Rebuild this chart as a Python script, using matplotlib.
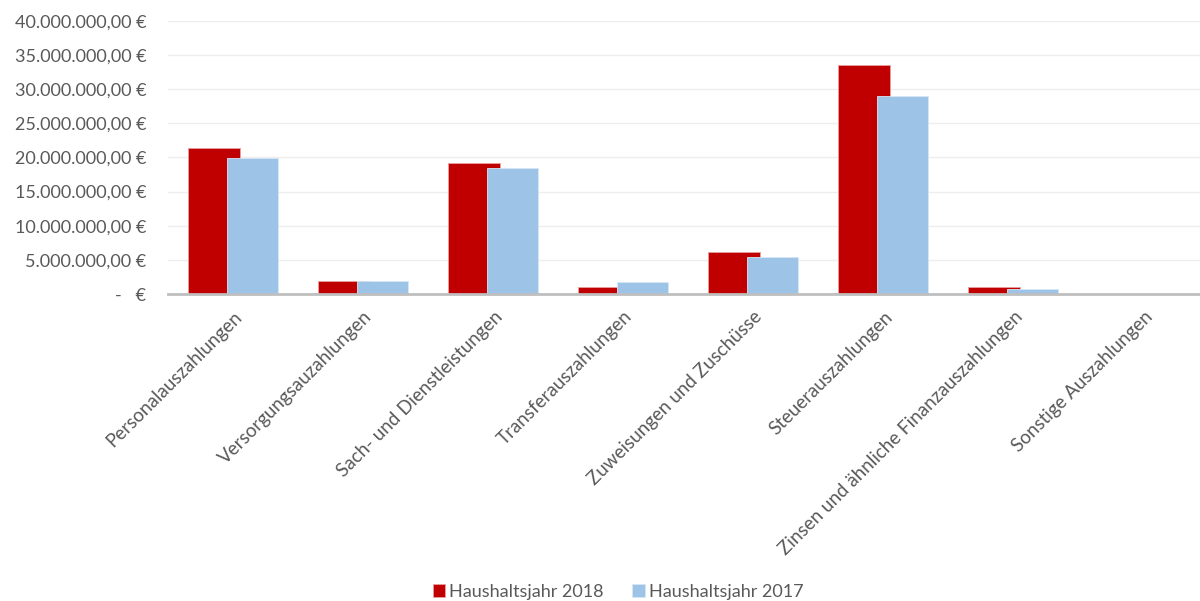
import matplotlib.pyplot as plt
from matplotlib.ticker import FuncFormatter
import numpy as np

plt.rcParams['font.family'] = ['Lato', 'DejaVu Sans']

categories = [
    'Personalauszahlungen', 'Versorgungsauzahlungen', 'Sach- und Dienstleistungen',
    'Transferauszahlungen', 'Zuweisungen und Zuschüsse', 'Steuerauszahlungen',
    'Zinsen und ähnliche Finanzauszahlungen', 'Sonstige Auszahlungen'
]
jahr_2018 = [21_300_000, 1_900_000, 19_200_000, 970_000, 6_200_000, 33_500_000, 970_000, 0]
jahr_2017 = [19_900_000, 1_950_000, 18_400_000, 1_700_000, 5_450_000, 29_000_000, 780_000, 0]

grey = '#595959'

def euro(v, pos):
    if v == 0:
        return '-   €'
    s = f'{v:,.2f}'.replace(',', 'X').replace('.', ',').replace('X', '.')
    return s + ' €'

fig = plt.figure(figsize=(12, 6.01), dpi=100)
# plot area runs a little past the right edge, as in the original
ax = fig.add_axes([0.1404, 0.5108, 0.8667, 0.4548])

x = np.arange(len(categories))
ax.bar(x - 0.148, jahr_2018, width=0.40, color='#c00000', edgecolor='#e8a0a0',
       linewidth=0.6, label='Haushaltsjahr 2018', zorder=2)
ax.bar(x + 0.148, jahr_2017, width=0.39, color='#9dc3e6', edgecolor='#d6e6f5',
       linewidth=0.6, label='Haushaltsjahr 2017', zorder=3)

ax.set_xlim(-0.5, len(categories) - 0.5)
ax.set_ylim(0, 40_000_000)
ax.set_yticks(np.arange(0, 40_000_001, 5_000_000))
ax.yaxis.set_major_formatter(FuncFormatter(euro))
ax.grid(axis='y', color='#eeeeee', linewidth=1, zorder=0)
ax.set_axisbelow(True)

for side in ['top', 'right', 'left']:
    ax.spines[side].set_visible(False)
ax.spines['bottom'].set_color('#bfbfbf')
ax.spines['bottom'].set_linewidth(2)
ax.spines['bottom'].set_zorder(4)

ax.set_xticks(x)
ax.set_xticklabels(categories, rotation=45, ha='right', rotation_mode='anchor')
ax.tick_params(axis='both', length=0, colors=grey)
ax.tick_params(axis='x', pad=10, labelsize=13.5)
ax.tick_params(axis='y', pad=16, labelsize=13)

fig.legend(loc='center', bbox_to_anchor=(0.515, 0.015), ncol=2, frameon=False,
           handlelength=0.7, handleheight=0.7, handletextpad=0.2, columnspacing=1.6,
           fontsize=13, labelcolor=grey, borderpad=0)

fig.savefig('out.png', dpi=100)
